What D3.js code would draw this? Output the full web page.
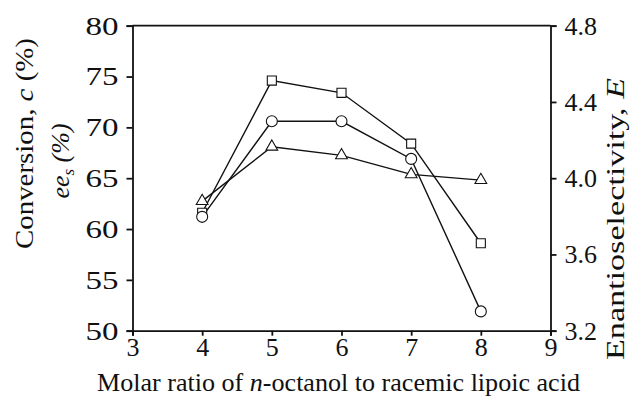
<!DOCTYPE html>
<html><head><meta charset="utf-8">
<script src="https://cdn.jsdelivr.net/npm/d3@7"></script>
<style>body{margin:0;background:#fff}svg{display:block}</style>
</head><body>
<script>
const ratios = [4, 5, 6, 7, 8];
const eesValues = [61.6, 74.6, 73.4, 68.4, 58.6];        // squares (left axis)
const conversionValues = [61.2, 70.6, 70.6, 66.9, 51.9]; // circles (left axis)
const eValues = [3.88, 4.165, 4.12, 4.02, 3.99];         // triangles (right axis)
const xTicks = [3, 4, 5, 6, 7, 8, 9];
const yLeftTicks = [50, 55, 60, 65, 70, 75, 80];
const yRightTicks = [3.2, 3.6, 4.0, 4.4, 4.8];

const W = 632, H = 396;
const m = {left: 132.5, right: 632 - 550.5, top: 25.7, bottom: 396 - 330.7};
const svg = d3.select("body").append("svg").attr("width", W).attr("height", H);
const font = "'Liberation Serif', 'Times New Roman', Times, serif";

const x = d3.scaleLinear().domain([3, 9]).range([m.left, W - m.right]);
const yL = d3.scaleLinear().domain([50, 80]).range([H - m.bottom, m.top]);
const yR = d3.scaleLinear().domain([3.2, 4.8]).range([H - m.bottom, m.top]);

function styleAxis(g) {
  g.selectAll("path.domain").attr("stroke", "#111").attr("stroke-width", 1.8);
  g.selectAll(".tick line").attr("stroke", "#111").attr("stroke-width", 1.8);
  g.selectAll("text").style("font-family", font).attr("font-size", 26).attr("fill", "#111");
}

// top frame
svg.append("line").attr("x1", m.left).attr("x2", W - m.right).attr("y1", m.top).attr("y2", m.top)
  .attr("stroke", "#111").attr("stroke-width", 1.8);

svg.append("g").attr("transform", `translate(0,${H - m.bottom})`)
  .call(d3.axisBottom(x).tickValues(xTicks).tickFormat(d3.format("d")).tickSizeOuter(0).tickSize(5).tickPadding(2))
  .call(styleAxis);
svg.append("g").attr("transform", `translate(${m.left},0)`)
  .call(d3.axisLeft(yL).tickValues(yLeftTicks).tickFormat(d3.format("d")).tickSizeOuter(0).tickSize(6).tickPadding(8))
  .call(styleAxis)
  .call(g => g.selectAll(".tick text").attr("textLength", 33).attr("lengthAdjust", "spacingAndGlyphs"));
svg.append("g").attr("transform", `translate(${W - m.right},0)`)
  .call(d3.axisRight(yR).tickValues(yRightTicks).tickFormat(d3.format(".1f")).tickSizeOuter(0).tickSize(6).tickPadding(8))
  .call(styleAxis);

const series = [
  {vals: eesValues, y: yL, sym: d3.symbolSquare, size: 82},
  {vals: conversionValues, y: yL, sym: d3.symbolCircle, size: 95},
  {vals: eValues, y: yR, sym: d3.symbolTriangle, size: 60}
];
series.forEach(s => {
  const pts = ratios.map((r, i) => [x(r), s.y(s.vals[i])]);
  svg.append("path").attr("d", d3.line()(pts)).attr("fill", "none")
    .attr("stroke", "#111").attr("stroke-width", 1.4);
});
series.forEach(s => {
  svg.append("g").selectAll("path").data(ratios).join("path")
    .attr("transform", (r, i) => `translate(${x(r)},${s.y(s.vals[i])})`)
    .attr("d", d3.symbol().type(s.sym).size(s.size))
    .attr("fill", "#fff").attr("stroke", "#111").attr("stroke-width", 1.1);
});

// axis titles
svg.append("text").attr("x", 338.5).attr("y", 391)
  .attr("text-anchor", "middle").style("font-family", font).attr("font-size", 26).attr("fill", "#111")
  .attr("textLength", 483).attr("lengthAdjust", "spacingAndGlyphs")
  .html('Molar ratio of <tspan font-style="italic">n</tspan>-octanol to racemic lipoic acid');

svg.append("text").attr("transform", "translate(33,143.5) rotate(-90)")
  .attr("text-anchor", "middle").style("font-family", font).attr("font-size", 26).attr("fill", "#111")
  .attr("textLength", 211).attr("lengthAdjust", "spacingAndGlyphs")
  .html('Conversion, <tspan font-style="italic">c</tspan> (%)');
svg.append("text").attr("transform", "translate(69,161) rotate(-90)")
  .attr("text-anchor", "middle").style("font-family", font).attr("font-size", 26).attr("fill", "#111")
  .attr("font-style", "italic")
  .html('ee<tspan font-size="17" dy="5">s</tspan><tspan dy="-5"> (%)</tspan>');

svg.append("text").attr("transform", "translate(624,219) rotate(-90)")
  .attr("text-anchor", "middle").style("font-family", font).attr("font-size", 26).attr("fill", "#111")
  .attr("textLength", 282).attr("lengthAdjust", "spacingAndGlyphs")
  .html('Enantioselectivity, <tspan font-style="italic">E</tspan>');
</script>
</body></html>
